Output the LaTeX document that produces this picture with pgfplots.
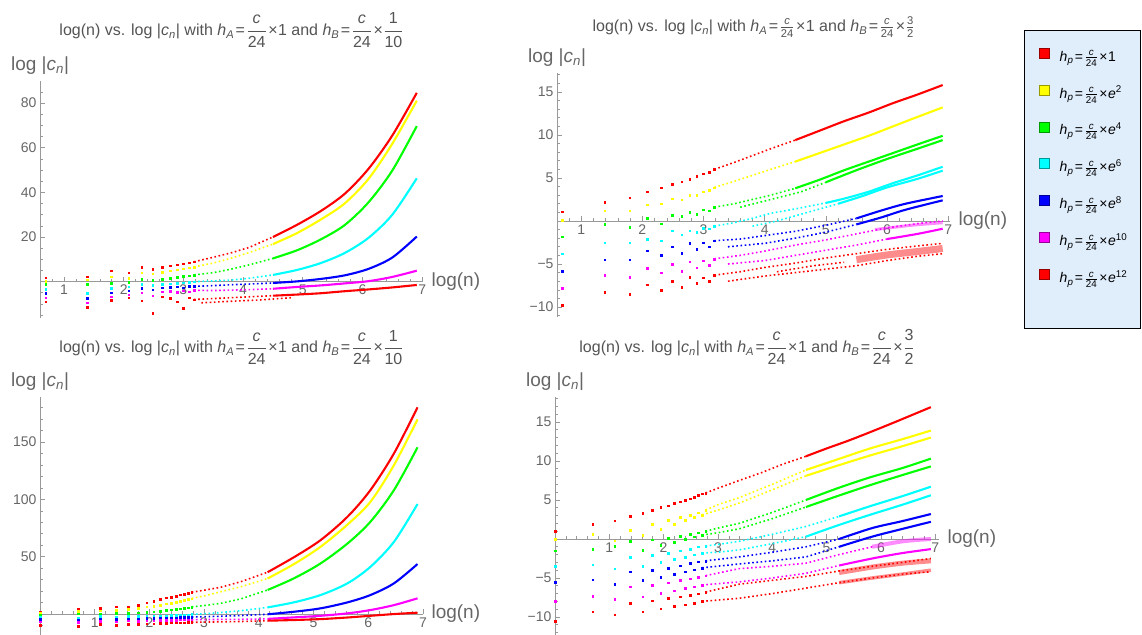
\documentclass[border=0pt]{standalone}
\usepackage{amsmath}
\usepackage{fontspec}
\setmainfont{Liberation Sans}
\usepackage{pgfplots}
\pgfplotsset{compat=1.18}

\definecolor{mred}{RGB}{255,0,0}
\definecolor{myel}{RGB}{255,255,0}
\definecolor{mgrn}{RGB}{0,255,0}
\definecolor{mcyn}{RGB}{0,255,255}
\definecolor{mblu}{RGB}{0,0,255}
\definecolor{mmag}{RGB}{255,0,255}
\definecolor{axgray}{gray}{0.6}
\definecolor{labgray}{gray}{0.4}
\definecolor{titgray}{gray}{0.33}
\definecolor{legbg}{RGB}{224,238,252}

\newcommand\tickfont{\fontsize{14}{16}\selectfont}
\newcommand\titfont{\fontsize{16}{18}\selectfont}
\newcommand\labfont{\fontsize{19}{21}\selectfont}
\newcommand\legfont{\fontsize{14}{16}\selectfont}
\newcommand\cn{|\textit{c}\textsubscript{\textit{n}}|}
\newcommand\fr[2]{\ensuremath{\dfrac{\text{#1}}{\text{#2}}}}
\newcommand\tfr[2]{\ensuremath{\tfrac{\text{#1}}{\text{#2}}}}
\newcommand\hh[1]{\textit{h}\textsubscript{\textit{#1}}}
\newcommand\eq{\kern1.5pt=\kern1.5pt}
\newcommand\tm{\kern1.5pt×\kern0.5pt}
\newcommand\leg[1]{\hh{p}\eq\tfr{\textit{c}}{24}\tm#1}

\pgfplotsset{
  mma/.style={
    scale only axis, anchor=south west,
    axis x line*=middle, axis y line*=left,
    axis line style={draw=axgray, line width=0.8pt},
    every tick/.style={draw=axgray, line width=0.6pt},
    major tick length=5pt, minor tick length=3pt,
    tick align=inside, hide obscured x ticks=false,
    xtick={1,2,3,4,5,6,7}, xticklabels={1,2,3,4,5,6,7},
    minor xtick={0.2,0.4,0.6,0.8,1.2,1.4,1.6,1.8,2.2,2.4,2.6,2.8,3.2,3.4,3.6,3.8,4.2,4.4,4.6,4.8,5.2,5.4,5.6,5.8,6.2,6.4,6.6,6.8},
    tick label style={font=\tickfont, text=labgray},
    xlabel={log(n)}, ylabel={log \cn},
    every axis y label/.style={at={(axis description cs:0,1)}, anchor=south, yshift=3pt, font=\labfont, text=labgray},
    every axis title/.style={at={(axis description cs:0.5,1)}, anchor=south, font=\titfont, text=titgray},
  },
  xl/.style={every axis x label/.style={at={(axis description cs:1,#1)}, anchor=west, xshift=5pt, font=\labfont, text=labgray}},
  tsh/.style={title style={yshift=#1}},
  P/.style={forget plot, only marks, mark=square*, mark size=0.8pt, color=#1, mark options={line width=0.2pt}},
  D/.style={forget plot, no marks, color=#1, line width=1.6pt, dash pattern=on 1.6pt off 2.6pt},
  L/.style={forget plot, no marks, color=#1, line width=2.1pt, smooth},
  B/.style 2 args={forget plot, no marks, color=#1, line width=#2, smooth, opacity=0.45},
}

\begin{document}
\begin{tikzpicture}[x=1pt,y=1pt]
\useasboundingbox (0,0) rectangle (1142,634);
\draw[black, line width=0.7pt, fill=legbg] (1024,306) rectangle (1140,604);

% ---------------- top left ----------------
\begin{axis}[mma, at={(40pt,316pt)}, width=383pt, height=237pt,
  xmin=0.598, xmax=7.014, ymin=-16.3, ymax=89.9,
  ytick={20,40,60,80}, yticklabels={20,40,60,80},
  minor ytick={-15,-10,-5,5,10,15,25,30,35,45,50,55,65,70,75,85},
  xl=0.1535, tsh=30pt,
  title={log(n) vs. log \cn{} with \hh{A}\eq\fr{\textit{c}}{24}\tm1 and \hh{B}\eq\fr{\textit{c}}{24}\tm\fr{1}{10}}]
\addplot[P=mred] coordinates {(0.693,1.8)(1.386,2.2)(1.792,4.9)(2.079,4.0)(2.303,6.4)(2.485,5.7)(2.639,6.5)(2.773,7.1)(2.890,7.6)(2.996,8.1)(3.091,8.5)(3.178,8.9)};
\addplot[D=mred] coordinates {(3.178,8.9)(3.5,10.9)(3.8,12.9)(4.1,15.3)(4.5,20.0)};
\addplot[L=mred] coordinates {(4.5,20.0)(4.9,25.4)(5.3,31.6)(5.7,39.3)(6.1,50.5)(6.5,65.5)(6.91,84.6)};
\addplot[P=myel] coordinates {(0.693,0.3)(1.386,0.9)(1.792,2.2)(2.079,1.7)(2.303,4.0)(2.485,3.6)(2.639,4.3)(2.773,4.9)(2.890,5.3)(2.996,5.8)(3.091,6.2)(3.178,6.6)};
\addplot[D=myel] coordinates {(3.178,6.6)(3.5,8.3)(3.8,10.5)(4.1,13.0)(4.5,16.8)};
\addplot[L=myel] coordinates {(4.5,16.8)(4.9,21.7)(5.3,27.8)(5.7,35.0)(6.1,46.0)(6.5,61.8)(6.91,81.1)};
\addplot[P=mgrn] coordinates {(0.693,-1.2)(1.386,-1.2)(1.792,-0.7)(2.079,-0.3)(2.303,1.2)(2.485,0.6)(2.639,1.2)(2.773,1.6)(2.890,2.0)(2.996,2.4)(3.091,2.7)(3.178,3.0)};
\addplot[D=mgrn] coordinates {(3.178,3.0)(3.5,4.0)(3.8,5.6)(4.1,7.5)(4.5,10.4)};
\addplot[L=mgrn] coordinates {(4.5,10.4)(4.9,14.0)(5.3,18.9)(5.7,25.3)(6.1,35.5)(6.5,49.8)(6.91,69.7)};
\addplot[P=mcyn] coordinates {(0.693,-3.4)(1.386,-5.2)(1.792,-3.0)(2.079,-2.2)(2.303,-1.0)(2.485,-1.6)(2.639,-1.2)(2.773,-0.9)(2.890,-0.6)(2.996,-0.4)(3.091,-0.2)(3.178,0.0)};
\addplot[D=mcyn] coordinates {(3.178,0.0)(3.5,0.3)(3.8,0.7)(4.1,1.5)(4.5,3.0)};
\addplot[L=mcyn] coordinates {(4.5,3.0)(4.9,5.2)(5.3,8.3)(5.7,12.8)(6.1,19.6)(6.5,30.0)(6.91,46.3)};
\addplot[P=mblu] coordinates {(0.693,-5.2)(1.386,-7.5)(1.792,-4.9)(2.079,-4.0)(2.303,-3.0)(2.485,-3.6)(2.639,-2.6)(2.773,-2.4)(2.890,-2.2)(2.996,-2.6)(3.091,-1.9)(3.178,-2.1)};
\addplot[D=mblu] coordinates {(3.178,-2.1)(3.5,-1.8)(3.8,-1.4)(4.1,-1.1)(4.5,-0.6)};
\addplot[L=mblu] coordinates {(4.5,-0.6)(4.9,0.1)(5.3,1.2)(5.7,2.8)(6.1,5.7)(6.5,10.8)(6.91,20.2)};
\addplot[P=mmag] coordinates {(0.693,-7.2)(1.386,-9.4)(1.792,-6.7)(2.079,-5.8)(2.303,-5.0)(2.485,-6.2)(2.639,-4.5)(2.773,-4.2)(2.890,-4.8)(2.996,-4.0)(3.091,-4.4)(3.178,-3.9)};
\addplot[D=mmag] coordinates {(3.178,-3.9)(3.5,-4.0)(3.8,-3.8)(4.1,-3.6)(4.5,-3.2)};
\addplot[L=mmag] coordinates {(4.5,-3.2)(4.9,-2.4)(5.3,-1.7)(5.7,-0.8)(6.1,0.2)(6.5,2.1)(6.91,4.9)};
\addplot[P=mred] coordinates {(0.693,-9.0)(1.386,-11.5)(1.792,-8.2)(2.079,-7.2)(2.303,-8.5)(2.485,-14.0)(2.639,-6.8)(2.773,-7.5)(2.890,-9.0)(2.996,-11.8)(3.091,-7.2)(3.178,-8.0)};
\addplot[D=mred] coordinates {(3.178,-8.0)(3.5,-7.6)(3.8,-7.2)(4.1,-6.8)(4.5,-6.3)};
\addplot[D=mred] coordinates {(3.3,-9.5)(3.8,-8.8)(4.3,-8.2)(4.8,-7.2)};
\addplot[L=mred] coordinates {(4.5,-6.3)(4.9,-5.8)(5.3,-5.2)(5.7,-4.3)(6.1,-3.5)(6.5,-2.6)(6.91,-1.5)};
\end{axis}

% ---------------- top right ----------------
\begin{axis}[mma, at={(557pt,317pt)}, width=393pt, height=244pt,
  xmin=0.605, xmax=7.03, ymin=-11.16, ymax=17.2,
  ytick={-10,-5,5,10,15}, yticklabels={−10,−5,5,10,15},
  minor ytick={-11,-9,-8,-7,-6,-4,-3,-2,-1,1,2,3,4,6,7,8,9,11,12,13,14,16,17},
  xl=0.3935, tsh=31.7pt,
  title={log(n) vs. log \cn{} with \hh{A}\eq\tfr{\textit{c}}{24}\tm1 and \hh{B}\eq\tfr{\textit{c}}{24}\tm\tfr{3}{2}},
  legend style={at={(axis description cs:1.2265,1.1025)}, anchor=north west, draw=none, fill=none,
    font=\legfont, text=black, row sep=19.4pt, inner sep=0pt,
    /tikz/every odd column/.append style={column sep=8pt}},
  legend cell align=left,
  legend image code/.code={\draw[#1, line width=0.5pt] (0pt,-2pt) rectangle (10pt,8pt);}]
\addplot[P=mred] coordinates {(0.693,1.1)(1.386,2.2)(1.792,2.7)(2.079,3.4)(2.303,3.9)(2.485,4.3)(2.639,4.6)(2.773,4.9)(2.890,5.2)(2.996,5.5)(3.091,5.7)(3.178,6.0)};
\addplot[D=mred] coordinates {(3.178,6.0)(3.5,6.8)(3.8,7.6)(4.1,8.4)(4.5,9.4)};
\addplot[L=mred] coordinates {(4.5,9.4)(4.9,10.5)(5.3,11.6)(5.7,12.6)(6.1,13.7)(6.5,14.7)(6.91,15.8)};
\addplot[P=myel] coordinates {(0.693,0.1)(1.386,1.2)(1.792,1.2)(2.079,1.9)(2.303,2.0)(2.485,2.6)(2.639,2.5)(2.773,3.0)(2.890,3.0)(2.996,3.4)(3.091,3.6)(3.178,3.9)};
\addplot[D=myel] coordinates {(3.178,3.9)(3.5,4.6)(3.8,5.3)(4.1,6.0)(4.5,6.9)};
\addplot[L=myel] coordinates {(4.5,6.9)(4.9,7.9)(5.3,8.9)(5.7,9.9)(6.1,11.0)(6.5,12.1)(6.91,13.2)};
\addplot[P=mgrn] coordinates {(0.693,-1.8)(1.386,-0.35)(1.792,-0.7)(2.079,0.3)(2.303,-0.3)(2.485,0.7)(2.639,0.6)(2.773,1.0)(2.890,0.8)(2.996,1.3)(3.091,1.2)(3.178,1.6)};
\addplot[D=mgrn] coordinates {(3.178,1.6)(3.5,2.0)(3.8,2.5)(4.1,3.0)(4.5,3.8)};
\addplot[D=mgrn] coordinates {(3.6,1.6)(4.1,2.5)(4.6,3.4)(5.0,4.5)};
\addplot[L=mgrn] coordinates {(4.5,3.8)(4.9,4.8)(5.3,5.9)(5.7,6.9)(6.1,7.9)(6.5,8.9)(6.91,9.9)};
\addplot[L=mgrn] coordinates {(5.0,4.5)(5.5,5.9)(6.0,7.2)(6.5,8.4)(6.91,9.4)};
\addplot[P=mcyn] coordinates {(0.693,-3.8)(1.386,-2.5)(1.792,-2.5)(2.079,-2.1)(2.303,-2.3)(2.485,-1.1)(2.639,-1.6)(2.773,-1.1)(2.890,-1.3)(2.996,-0.85)(3.091,-0.9)(3.178,-0.6)};
\addplot[D=mcyn] coordinates {(3.178,-0.6)(3.5,-0.2)(3.8,0.3)(4.1,0.9)(4.5,1.4)(5.0,2.1)};
\addplot[D=mcyn] coordinates {(3.8,-0.6)(4.2,0.0)(4.6,0.8)(5.2,2.0)};
\addplot[L=mcyn] coordinates {(5.0,2.1)(5.3,2.6)(5.7,3.4)(6.1,4.4)(6.5,5.3)(6.91,6.3)};
\addplot[L=mcyn] coordinates {(5.2,2.0)(5.6,2.9)(6.0,3.9)(6.5,4.9)(6.91,5.85)};
\addplot[P=mblu] coordinates {(0.693,-5.8)(1.386,-4.5)(1.792,-4.5)(2.079,-3.45)(2.303,-4.0)(2.485,-3.0)(2.639,-3.7)(2.773,-2.6)(2.890,-3.3)(2.996,-2.5)(3.091,-3.0)(3.178,-2.3)};
\addplot[D=mblu] coordinates {(3.178,-2.3)(3.6,-2.1)(4.0,-1.7)(4.5,-1.2)(5.0,-0.5)(5.5,0.3)};
\addplot[D=mblu] coordinates {(3.4,-3.0)(4.0,-2.6)(4.5,-2.0)(5.0,-1.3)(5.5,-0.4)};
\addplot[L=mblu] coordinates {(5.5,0.3)(5.9,1.2)(6.3,2.0)(6.91,2.9)};
\addplot[L=mblu] coordinates {(5.5,-0.4)(5.9,0.4)(6.3,1.3)(6.91,2.4)};
\addplot[P=mmag] coordinates {(0.693,-7.8)(1.386,-6.3)(1.792,-6.5)(2.079,-5.5)(2.303,-6.0)(2.485,-5.0)(2.639,-5.8)(2.773,-4.7)(2.890,-5.4)(2.996,-4.6)(3.091,-5.1)(3.178,-4.4)};
\addplot[D=mmag] coordinates {(3.178,-4.4)(3.6,-4.0)(4.0,-3.5)(4.5,-2.8)(5.0,-2.2)(5.5,-1.5)(6.0,-0.8)(6.5,-0.3)(6.91,0.0)};
\addplot[D=mmag] coordinates {(3.4,-5.0)(4.0,-4.6)(4.5,-4.0)(5.0,-3.4)(5.5,-2.8)(6.0,-2.1)};
\addplot[B={mmag}{3pt}] coordinates {(5.8,-1.0)(6.4,-0.5)(6.91,-0.2)};
\addplot[L=mmag] coordinates {(6.0,-2.1)(6.5,-1.5)(6.91,-0.9)};
\addplot[P=mred] coordinates {(0.693,-9.8)(1.386,-8.3)(1.792,-8.5)(2.079,-7.4)(2.303,-8.0)(2.485,-7.0)(2.639,-7.7)(2.773,-6.5)(2.890,-7.2)(2.996,-6.6)(3.091,-7.0)(3.178,-6.3)};
\addplot[D=mred] coordinates {(3.178,-6.3)(3.6,-5.9)(4.0,-5.4)(4.5,-4.9)(5.0,-4.3)(5.5,-3.8)(6.0,-3.3)(6.5,-2.9)(6.91,-2.6)};
\addplot[D=mred] coordinates {(3.4,-7.0)(4.0,-6.4)(4.5,-6.0)(5.0,-5.6)(5.5,-5.2)(6.0,-4.6)(6.5,-4.1)(6.91,-3.8)};
\addplot[D=mred] coordinates {(4.2,-5.9)(4.8,-5.2)(5.3,-4.8)};
\addplot[B={mred}{7pt}] coordinates {(5.5,-4.5)(6.0,-3.95)(6.5,-3.55)(6.91,-3.2)};
\addlegendimage{fill=mred, draw=mred!60!black}\addlegendentry{\leg{1}}
\addlegendimage{fill=myel, draw=myel!60!black}\addlegendentry{\leg{\textit{e}\textsuperscript{2}}}
\addlegendimage{fill=mgrn, draw=mgrn!60!black}\addlegendentry{\leg{\textit{e}\textsuperscript{4}}}
\addlegendimage{fill=mcyn, draw=mcyn!60!black}\addlegendentry{\leg{\textit{e}\textsuperscript{6}}}
\addlegendimage{fill=mblu, draw=mblu!60!black}\addlegendentry{\leg{\textit{e}\textsuperscript{8}}}
\addlegendimage{fill=mmag, draw=mmag!60!black}\addlegendentry{\leg{\textit{e}\textsuperscript{10}}}
\addlegendimage{fill=mred, draw=mred!60!black}\addlegendentry{\leg{\textit{e}\textsuperscript{12}}}
\end{axis}

% ---------------- bottom left ----------------
\begin{axis}[mma, at={(40pt,-3pt)}, width=383pt, height=240pt,
  xmin=0, xmax=7.0, ymin=-20, ymax=189.2,
  ytick={50,100,150}, yticklabels={50,100,150},
  minor ytick={-10,10,20,30,40,60,70,80,90,110,120,130,140,160,170,180},
  xl=0.0956, tsh=28.7pt,
  title={log(n) vs. log \cn{} with \hh{A}\eq\fr{\textit{c}}{24}\tm1 and \hh{B}\eq\fr{\textit{c}}{24}\tm\fr{1}{10}}]
\addplot[P=mred] coordinates {(0,2.0)(0.693,4.1)(1.099,5.0)(1.386,6.4)(1.609,6.6)(1.792,7.8)(1.946,9.9)(2.079,11.3)(2.197,12.8)(2.303,14.5)(2.398,15.0)(2.485,15.7)(2.565,16.8)(2.639,17.6)(2.708,18.3)(2.773,19.0)};
\addplot[D=mred] coordinates {(2.773,19.0)(3.0,20.8)(3.3,23.3)(3.67,28.2)(4.16,36.5)};
\addplot[L=mred] coordinates {(4.16,36.5)(4.64,49.5)(5.13,64.5)(5.62,84.8)(6.04,108.1)(6.47,140.1)(6.90,180.2)};
\addplot[P=myel] coordinates {(0,1.0)(0.693,2.6)(1.099,3.0)(1.386,3.5)(1.609,4.2)(1.792,5.0)(1.946,6.4)(2.079,7.0)(2.197,8.0)(2.303,9.0)(2.398,9.8)(2.485,10.6)(2.565,11.4)(2.639,12.2)(2.708,12.9)(2.773,13.6)};
\addplot[D=myel] coordinates {(2.773,13.6)(3.0,15.8)(3.3,19.4)(3.67,23.8)(4.16,31.0)};
\addplot[L=myel] coordinates {(4.16,31.0)(4.64,43.5)(5.13,58.7)(5.62,78.0)(6.04,97.9)(6.47,129.9)(6.90,169.7)};
\addplot[P=mgrn] coordinates {(0,-0.5)(0.693,0.5)(1.099,0.0)(1.386,0.8)(1.609,0.8)(1.792,1.2)(1.946,1.8)(2.079,2.2)(2.197,2.8)(2.303,3.3)(2.398,3.8)(2.485,4.3)(2.565,4.8)(2.639,5.3)(2.708,5.8)(2.773,6.3)};
\addplot[D=mgrn] coordinates {(2.773,6.3)(3.0,7.4)(3.3,9.3)(3.67,13.2)(4.16,21.0)};
\addplot[L=mgrn] coordinates {(4.16,21.0)(4.64,31.1)(5.13,44.2)(5.62,61.5)(6.04,80.5)(6.47,108.1)(6.90,145.3)};
\addplot[P=mcyn] coordinates {(0,-2.5)(0.693,-3.0)(1.099,-2.0)(1.386,-2.6)(1.609,-1.8)(1.792,-2.0)(1.946,-1.5)(2.079,-1.6)(2.197,-1.2)(2.303,-1.2)(2.398,-0.9)(2.485,-0.8)(2.565,-0.6)(2.639,-0.5)(2.708,-0.3)(2.773,-0.2)};
\addplot[D=mcyn] coordinates {(2.773,-0.2)(3.0,0.3)(3.3,1.3)(3.67,2.9)(4.16,5.8)};
\addplot[L=mcyn] coordinates {(4.16,5.8)(4.64,10.2)(5.13,16.6)(5.62,26.8)(6.04,41.2)(6.47,63.0)(6.90,95.9)};
\addplot[P=mblu] coordinates {(0,-4.5)(0.693,-5.0)(1.099,-4.0)(1.386,-4.6)(1.609,-3.8)(1.792,-4.0)(1.946,-3.6)(2.079,-3.7)(2.197,-3.3)(2.303,-3.3)(2.398,-3.0)(2.485,-3.0)(2.565,-2.8)(2.639,-2.8)(2.708,-2.6)(2.773,-2.6)};
\addplot[D=mblu] coordinates {(2.773,-2.6)(3.0,-2.3)(3.3,-1.9)(3.67,-1.3)(4.16,-0.2)};
\addplot[L=mblu] coordinates {(4.16,-0.2)(4.64,2.0)(5.13,5.0)(5.62,10.2)(6.04,16.6)(6.47,26.8)(6.90,43.6)};
\addplot[P=mmag] coordinates {(0,-6.5)(0.693,-7.0)(1.099,-6.0)(1.386,-6.6)(1.609,-5.8)(1.792,-6.0)(1.946,-5.6)(2.079,-5.7)(2.197,-5.3)(2.303,-5.3)(2.398,-5.1)(2.485,-5.1)(2.565,-5.0)(2.639,-5.0)(2.708,-4.9)(2.773,-4.9)};
\addplot[D=mmag] coordinates {(2.773,-4.9)(3.3,-4.7)(3.67,-4.6)(4.16,-4.2)};
\addplot[L=mmag] coordinates {(4.16,-4.2)(4.64,-2.9)(5.13,-1.5)(5.62,0.6)(6.04,3.5)(6.47,7.8)(6.90,13.7)};
\addplot[P=mred] coordinates {(0,-9.5)(0.693,-10.5)(1.099,-9.0)(1.386,-9.5)(1.609,-8.5)(1.792,-8.8)(1.946,-8.2)(2.079,-8.3)(2.197,-7.9)(2.303,-7.9)(2.398,-7.6)(2.485,-7.6)(2.565,-7.4)(2.639,-7.4)(2.708,-7.2)(2.773,-7.2)};
\addplot[D=mred] coordinates {(2.773,-7.2)(3.3,-6.8)(3.67,-6.5)(4.16,-5.8)};
\addplot[L=mred] coordinates {(4.16,-5.8)(4.64,-5.2)(5.13,-4.4)(5.62,-3.0)(6.04,-1.5)(6.47,0.0)(6.90,1.2)};
\end{axis}

% ---------------- bottom right ----------------
\begin{axis}[mma, at={(555pt,-2.5pt)}, width=384pt, height=239.5pt,
  xmin=0, xmax=7.07, ymin=-12.5, ymax=18.2,
  ytick={-10,-5,5,10,15}, yticklabels={−10,−5,5,10,15},
  minor ytick={-12,-11,-9,-8,-7,-6,-4,-3,-2,-1,1,2,3,4,6,7,8,9,11,12,13,14,16,17,18},
  xl=0.407, tsh=29pt,
  title={log(n) vs. log \cn{} with \hh{A}\eq\fr{\textit{c}}{24}\tm1 and \hh{B}\eq\fr{\textit{c}}{24}\tm\fr{3}{2}}]
\addplot[P=mred] coordinates {(0,1.0)(0.693,1.9)(1.099,2.35)(1.386,2.9)(1.609,3.3)(1.792,3.7)(1.946,4.1)(2.079,4.3)(2.197,4.6)(2.303,4.8)(2.398,5.0)(2.485,5.2)(2.565,5.4)(2.639,5.6)(2.708,5.8)(2.773,5.9)};
\addplot[D=mred] coordinates {(2.773,5.9)(3.0,6.5)(3.39,7.5)(3.8,8.5)(4.2,9.6)(4.62,10.6)};
\addplot[L=mred] coordinates {(4.62,10.6)(5.0,11.6)(5.4,12.6)(5.84,13.8)(6.3,15.1)(6.92,16.9)};
\addplot[P=myel] coordinates {(0,0.0)(0.693,0.6)(1.099,-0.2)(1.386,1.15)(1.609,0.5)(1.792,1.9)(1.946,1.3)(2.079,2.4)(2.197,1.9)(2.303,2.8)(2.398,2.4)(2.485,3.1)(2.565,2.8)(2.639,3.4)(2.708,3.1)(2.773,3.7)};
\addplot[D=myel] coordinates {(2.773,3.7)(3.0,4.4)(3.39,5.3)(4.0,7.0)(4.62,8.85)};
\addplot[D=myel] coordinates {(2.708,3.1)(3.0,3.7)(3.39,4.6)(4.0,6.3)(4.62,8.1)};
\addplot[L=myel] coordinates {(4.62,8.85)(5.2,10.2)(5.8,11.6)(6.4,12.8)(6.92,13.9)};
\addplot[L=myel] coordinates {(4.62,8.1)(5.2,9.4)(5.8,10.7)(6.4,11.9)(6.92,13.0)};
\addplot[P=mgrn] coordinates {(0,-1.5)(0.693,-1.3)(1.099,-0.9)(1.386,-0.3)(1.609,-1.4)(1.792,-0.1)(1.946,-0.8)(2.079,0.1)(2.197,-0.4)(2.303,0.4)(2.398,0.0)(2.485,0.6)(2.565,0.3)(2.639,0.8)(2.708,0.5)(2.773,1.0)};
\addplot[D=mgrn] coordinates {(2.773,1.0)(3.0,1.4)(3.39,2.0)(4.0,3.4)(4.62,5.0)};
\addplot[D=mgrn] coordinates {(2.708,0.5)(3.0,0.8)(3.39,1.3)(4.0,2.6)(4.62,4.1)};
\addplot[L=mgrn] coordinates {(4.62,5.0)(5.2,6.5)(5.8,7.9)(6.4,9.1)(6.92,10.3)};
\addplot[L=mgrn] coordinates {(4.62,4.1)(5.2,5.5)(5.8,6.9)(6.4,8.2)(6.92,9.3)};
\addplot[P=mcyn] coordinates {(0,-3.5)(0.693,-3.3)(1.099,-3.8)(1.386,-2.3)(1.609,-3.5)(1.792,-2.1)(1.946,-3.0)(2.079,-1.8)(2.197,-2.6)(2.303,-1.5)(2.398,-2.3)(2.485,-1.3)(2.565,-2.0)(2.639,-1.0)(2.708,-1.8)(2.773,-0.9)};
\addplot[D=mcyn] coordinates {(2.773,-0.9)(3.0,-0.7)(3.39,-0.3)(4.0,0.6)(4.62,1.6)(5.23,2.9)};
\addplot[D=mcyn] coordinates {(2.708,-1.8)(3.0,-1.7)(3.39,-1.4)(4.0,-0.6)(4.62,0.3)};
\addplot[L=mcyn] coordinates {(5.23,2.9)(5.8,4.2)(6.4,5.5)(6.92,6.7)};
\addplot[L=mcyn] coordinates {(4.62,0.3)(5.23,1.8)(5.8,3.1)(6.4,4.4)(6.92,5.6)};
\addplot[P=mblu] coordinates {(0,-5.5)(0.693,-5.2)(1.099,-5.8)(1.386,-4.2)(1.609,-5.3)(1.792,-4.0)(1.946,-4.9)(2.079,-3.7)(2.197,-4.5)(2.303,-3.4)(2.398,-4.2)(2.485,-3.1)(2.565,-3.9)(2.639,-2.9)(2.708,-3.7)(2.773,-2.8)};
\addplot[D=mblu] coordinates {(2.773,-2.8)(3.39,-2.3)(4.0,-1.7)(4.62,-1.0)(5.23,0.0)};
\addplot[D=mblu] coordinates {(2.708,-3.7)(3.39,-3.2)(4.0,-2.8)(4.62,-2.3)(5.23,-1.0)};
\addplot[L=mblu] coordinates {(5.23,0.0)(5.84,1.4)(6.4,2.3)(6.92,3.2)};
\addplot[L=mblu] coordinates {(5.23,-1.0)(5.84,0.3)(6.4,1.3)(6.92,2.2)};
\addplot[P=mmag] coordinates {(0,-8.0)(0.693,-7.3)(1.099,-7.7)(1.386,-6.1)(1.609,-7.4)(1.792,-5.9)(1.946,-6.9)(2.079,-5.6)(2.197,-6.6)(2.303,-5.3)(2.398,-6.3)(2.485,-5.1)(2.565,-6.1)(2.639,-4.9)(2.708,-5.9)(2.773,-4.7)};
\addplot[D=mmag] coordinates {(2.773,-4.7)(3.39,-3.8)(4.0,-3.5)(4.62,-3.1)(5.23,-2.0)(5.84,-1.0)};
\addplot[D=mmag] coordinates {(2.708,-5.9)(3.39,-5.5)(4.0,-5.0)(4.62,-4.4)(5.23,-3.4)};
\addplot[B={mmag}{4pt}] coordinates {(5.84,-1.0)(6.4,-0.3)(6.92,0.0)};
\addplot[L=mmag] coordinates {(5.23,-3.4)(5.84,-2.5)(6.4,-1.8)(6.92,-1.3)};
\addplot[P=mred] coordinates {(0,-10.5)(0.693,-9.3)(1.099,-9.7)(1.386,-8.2)(1.609,-9.3)(1.792,-7.9)(1.946,-8.9)(2.079,-7.6)(2.197,-8.6)(2.303,-7.4)(2.398,-8.4)(2.485,-7.2)(2.565,-8.2)(2.639,-7.0)(2.708,-8.0)(2.773,-6.8)};
\addplot[D=mred] coordinates {(2.773,-6.8)(3.39,-5.8)(4.0,-5.3)(4.62,-4.8)(5.23,-4.1)(5.84,-3.5)(6.4,-3.0)(6.92,-2.5)};
\addplot[D=mred] coordinates {(2.708,-8.0)(3.39,-7.6)(4.0,-7.0)(4.62,-6.3)(5.23,-5.6)(5.84,-5.0)(6.4,-4.5)(6.92,-4.2)};
\addplot[B={mred}{5pt}] coordinates {(5.23,-4.3)(5.84,-3.6)(6.4,-3.1)(6.92,-2.8)};
\addplot[B={mred}{3.5pt}] coordinates {(5.23,-5.6)(5.84,-5.0)(6.4,-4.5)(6.92,-4.0)};
\end{axis}
\end{tikzpicture}
\end{document}
